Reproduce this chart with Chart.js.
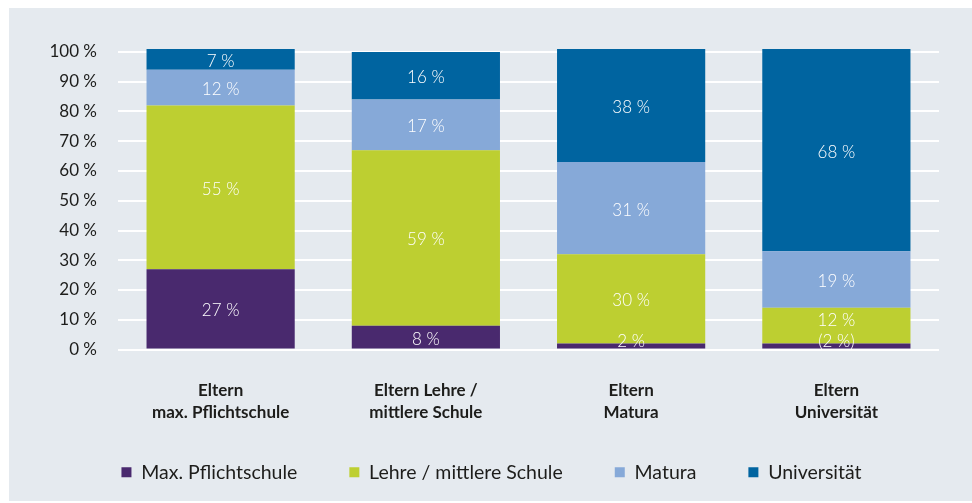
<!DOCTYPE html>
<html>
<head>
<meta charset="utf-8">
<script src="https://cdn.jsdelivr.net/npm/chart.js@4"></script>
<style>
  body { margin: 0; background: #fff; }
  #box { position: absolute; left: 9px; top: 8px; width: 963px; height: 493px; background: #e5eaef; }
</style>
</head>
<body>
<div id="box"><canvas id="edu_chart"></canvas></div>
<script>
const categories = [["Eltern", "max. Pflichtschule"], ["Eltern Lehre /", "mittlere Schule"], ["Eltern", "Matura"], ["Eltern", "Universität"]]
const series_names = ["Max. Pflichtschule", "Lehre / mittlere Schule", "Matura", "Universität"]
const pflicht = [27, 8, 2, 2]
const lehre = [55, 59, 30, 12]
const matura = [12, 17, 31, 19]
const uni = [7, 16, 38, 68]
const pflicht_text = ["27 %", "8 %", "2 %", "(2 %)"]
const y_ticks = [0, 10, 20, 30, 40, 50, 60, 70, 80, 90, 100]

const colors = ["#49296e", "#bdcf31", "#86a9d8", "#0064a0"]
const txt = "#1d1d1b"

// white value labels inside the bar segments
const seg_labels = {
    id: "seg_labels",
    afterDatasetsDraw(chart) {
        const ctx = chart.ctx
        ctx.save()
        ctx.font = "300 17px Lato"
        ctx.fillStyle = "#fff"
        ctx.textAlign = "center"
        ctx.textBaseline = "middle"
        const small_y = {}
        chart.data.datasets.forEach((ds, di) => {
            chart.getDatasetMeta(di).data.forEach((bar, i) => {
                const v = ds.data[i]
                let y = (bar.y + bar.base) / 2 + 2
                if (v < 5) {
                    y = bar.base - 7
                    small_y[i] = y
                } else if (small_y[i] !== undefined && y > small_y[i] - 21) {
                    y = small_y[i] - 21
                }
                const t = ds.texts ? ds.texts[i] : v + " %"
                ctx.fillText(t, bar.x, y)
            })
        })
        ctx.restore()
    }
}

// legend sits a bit higher than chart.js would put it
const legend_up = {
    id: "legend_up",
    beforeDraw(chart) {
        if (chart.legend) chart.legend.top = chart.chartArea.bottom + 61
    }
}

const data_sets = [pflicht, lehre, matura, uni].map((arr, k) => ({
    label: series_names[k],
    data: arr,
    backgroundColor: colors[k],
    borderWidth: 0,
    clip: false,
    texts: k === 0 ? pflicht_text : null
}))

new Chart(document.getElementById("edu_chart"), {
    type: "bar",
    data: { labels: categories, datasets: data_sets },
    options: {
        responsive: true,
        maintainAspectRatio: false,
        animation: false,
        categoryPercentage: 1,
        barPercentage: 0.722,
        layout: { padding: { top: 44, left: 35, right: 33, bottom: 0 } },
        plugins: {
            tooltip: { enabled: false },
            legend: {
                position: "bottom",
                labels: {
                    boxWidth: 10,
                    boxHeight: 10,
                    padding: 52,
                    color: txt,
                    font: { family: "Lato", size: 19.5 }
                }
            }
        },
        scales: {
            x: {
                stacked: true,
                grid: { display: false, drawTicks: false },
                border: { display: false },
                ticks: {
                    padding: 30,
                    color: txt,
                    font: { family: "Lato", size: 17, weight: "bold", lineHeight: 1.3 }
                },
                afterFit: (scale) => { scale.height = 70 }
            },
            y: {
                stacked: true,
                min: 0,
                max: 100,
                grid: { color: "#ffffff", lineWidth: 2, drawTicks: false },
                border: { display: false },
                afterBuildTicks: (scale) => { scale.ticks = y_ticks.map((v) => ({ value: v })) },
                ticks: {
                    padding: 21,
                    color: txt,
                    font: { family: "Lato", size: 17 },
                    callback: (v) => v + " %"
                },
                afterFit: (scale) => { scale.width = 74 }
            }
        }
    },
    plugins: [seg_labels, legend_up]
})
</script>
</body>
</html>
